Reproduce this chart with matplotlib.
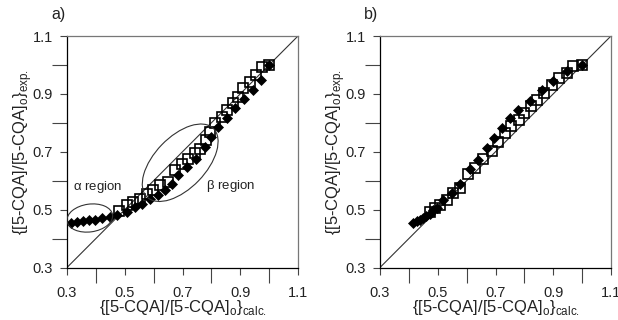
import matplotlib
matplotlib.use("Agg")
import matplotlib.pyplot as plt
from matplotlib.patches import Ellipse

plt.rcParams['font.family'] = ['Liberation Sans', 'DejaVu Sans']
plt.rcParams['mathtext.fontset'] = 'custom'
plt.rcParams['mathtext.rm'] = 'Liberation Sans'

# ---- data: panel a ----
x_sq_a = [0.48, 0.507, 0.53, 0.553, 0.576, 0.599, 0.622, 0.651, 0.674, 0.697, 0.72, 0.743,
          0.761, 0.78, 0.795, 0.813, 0.836, 0.853, 0.876, 0.893, 0.911, 0.934, 0.955, 0.976, 1.0]
y_sq_a = [0.495, 0.515, 0.526, 0.538, 0.555, 0.567, 0.584, 0.595, 0.636, 0.659, 0.676, 0.694,
          0.711, 0.74, 0.769, 0.798, 0.82, 0.844, 0.867, 0.89, 0.919, 0.942, 0.965, 0.994, 1.0]
x_di_a = [0.313, 0.334, 0.354, 0.375, 0.397, 0.42, 0.449, 0.472, 0.507, 0.535, 0.559, 0.587,
          0.616, 0.639, 0.662, 0.685, 0.714, 0.746, 0.778, 0.798, 0.824, 0.853, 0.882, 0.913,
          0.945, 0.972, 1.0]
y_di_a = [0.455, 0.457, 0.459, 0.463, 0.465, 0.47, 0.474, 0.48, 0.492, 0.509, 0.521, 0.538,
          0.549, 0.567, 0.59, 0.619, 0.647, 0.675, 0.717, 0.751, 0.786, 0.815, 0.85, 0.881,
          0.915, 0.948, 1.0]

# ---- data: panel b ----
x_sq_b = [0.473, 0.49, 0.508, 0.531, 0.554, 0.577, 0.606, 0.629, 0.658, 0.687, 0.71, 0.733,
          0.755, 0.78, 0.80, 0.822, 0.845, 0.868, 0.895, 0.921, 0.947, 0.97, 1.0]
y_sq_b = [0.493, 0.505, 0.516, 0.534, 0.557, 0.575, 0.623, 0.643, 0.675, 0.701, 0.735, 0.765,
          0.79, 0.81, 0.835, 0.857, 0.88, 0.903, 0.929, 0.955, 0.973, 0.998, 1.0]
x_di_b = [0.415, 0.427, 0.438, 0.45, 0.461, 0.473, 0.484, 0.496, 0.519, 0.548, 0.577, 0.612,
          0.64, 0.669, 0.696, 0.721, 0.75, 0.779, 0.819, 0.86, 0.90, 0.947, 1.0]
y_di_b = [0.455, 0.459, 0.465, 0.47, 0.478, 0.486, 0.497, 0.507, 0.532, 0.558, 0.588, 0.64,
          0.672, 0.713, 0.748, 0.782, 0.817, 0.845, 0.874, 0.915, 0.944, 0.978, 1.0]

ticks = [0.3, 0.5, 0.7, 0.9, 1.1]
minor_ticks = [0.4, 0.6, 0.8, 1.0]
tick_labels = ['0.3', '0.5', '0.7', '0.9', '1.1']
xlabel = r'{[5-CQA]/[5-CQA]$_{\mathregular{o}}$}$_{\mathregular{calc.}}$'
ylabel = r'{[5-CQA]/[5-CQA]$_{\mathregular{o}}$}$_{\mathregular{exp.}}$'

fig = plt.figure(figsize=(6.18, 3.2), dpi=100)
W, H = 618, 320
ax_a = fig.add_axes([67 / W, (H - 267.5) / H, 231 / W, 231.5 / H])
ax_b = fig.add_axes([380 / W, (H - 267.5) / H, 231 / W, 231.5 / H])

for ax, xs, ys, xd, yd in [(ax_a, x_sq_a, y_sq_a, x_di_a, y_di_a),
                           (ax_b, x_sq_b, y_sq_b, x_di_b, y_di_b)]:
    ax.plot([0.3, 1.1], [0.3, 1.1], color='#333333', lw=0.8, zorder=1)
    ax.plot(xs, ys, linestyle='none', marker='s', ms=7, mfc='none', mec='black',
            mew=1.2, zorder=2)
    ax.plot(xd, yd, linestyle='none', marker='D', ms=5.3, mfc='black', mec='black',
            mew=0.5, zorder=3)
    ax.set_xlim(0.3, 1.1)
    ax.set_ylim(0.3, 1.1)
    ax.set_xticks(ticks)
    ax.set_xticklabels(tick_labels)
    ax.set_yticks(ticks)
    ax.set_yticklabels(tick_labels)
    ax.set_xticks(minor_ticks, minor=True)
    ax.set_yticks(minor_ticks, minor=True)
    ax.tick_params(axis='both', which='major', direction='out', length=5, width=0.8,
                   labelsize=10.5, color='#444444', labelcolor='#222222')
    ax.tick_params(axis='x', which='major', pad=8)
    ax.tick_params(axis='y', which='major', pad=5)
    ax.tick_params(axis='both', which='minor', direction='out', length=10.5, width=0.8,
                   color='#444444')
    for s in ['left', 'bottom']:
        ax.spines[s].set_color('black')
        ax.spines[s].set_linewidth(0.9)
    for s in ['top', 'right']:
        ax.spines[s].set_color('#777777')
        ax.spines[s].set_linewidth(0.9)
    ax.set_xlabel(xlabel, fontsize=12, labelpad=-1, color='#222222')
    ax.set_ylabel(ylabel, fontsize=12, labelpad=-1, color='#222222')

fig.text(58 / W, 1 - 15 / H, 'a)', fontsize=11.5, ha='center', va='center', color='#222222')
fig.text(371 / W, 1 - 15 / H, 'b)', fontsize=11.5, ha='center', va='center', color='#222222')

ax_a.add_patch(Ellipse((0.379, 0.471), 0.159, 0.096, angle=8, fill=False,
                       edgecolor='#333333', lw=0.8, zorder=4))
ax_a.add_patch(Ellipse((0.692, 0.662), 0.33, 0.178, angle=46, fill=False,
                       edgecolor='#333333', lw=0.8, zorder=4))
ax_a.text(0.407, 0.577, r'$\mathregular{\alpha}$ region', fontsize=9.5, ha='center',
          va='center', color='#222222')
ax_a.text(0.865, 0.58, r'$\mathregular{\beta}$ region', fontsize=9.5, ha='center',
          va='center', color='#222222')

fig.savefig('out.png', dpi=100)
